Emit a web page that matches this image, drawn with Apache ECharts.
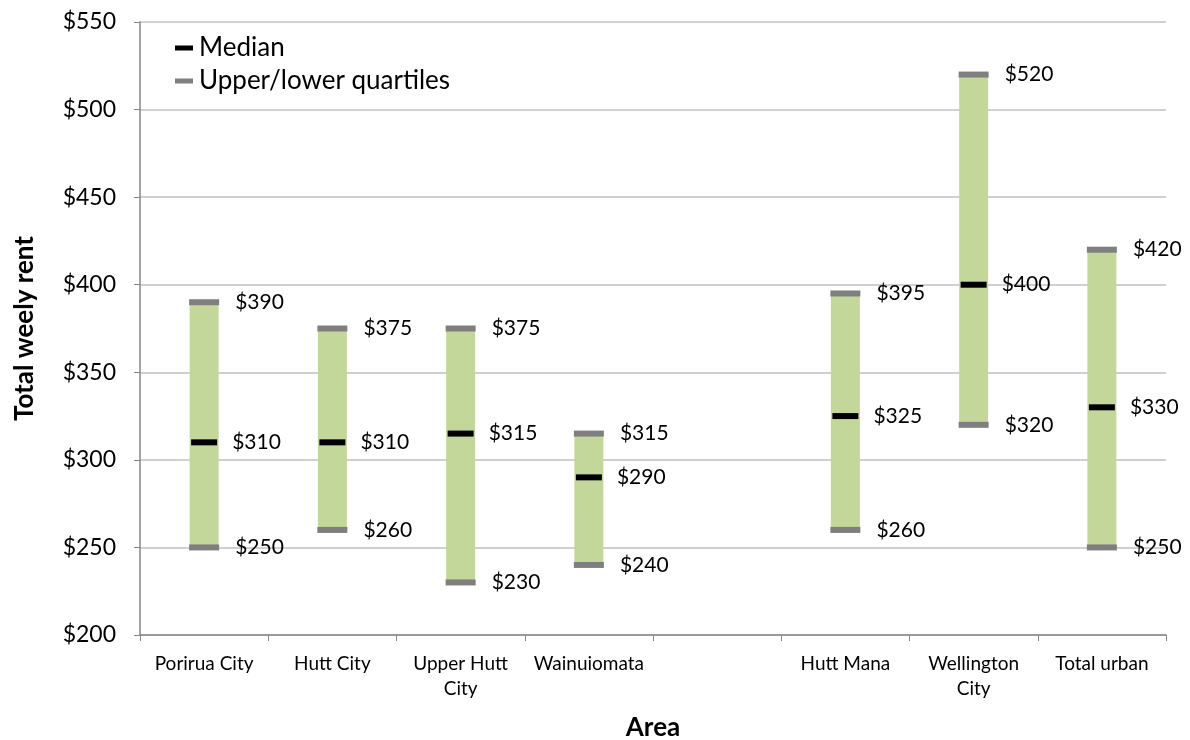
<!DOCTYPE html>
<html>
<head>
<meta charset="utf-8">
<script src="https://cdn.jsdelivr.net/npm/echarts@6/dist/echarts.min.js"></script>
<style>
  html, body { margin: 0; padding: 0; background: #fff; }
  #chart { width: 1190px; height: 740px; }
</style>
</head>
<body>
<div id="chart"></div>
<script>
// Weekly rent by area: interquartile range with median
const areas = ['Porirua City', 'Hutt City', 'Upper Hutt\nCity', 'Wainuiomata', '', 'Hutt Mana', 'Wellington\nCity', 'Total urban'];
const lowerQuartile = [250, 260, 230, 240, null, 260, 320, 250];
const median        = [310, 310, 315, 290, null, 325, 400, 330];
const upperQuartile = [390, 375, 375, 315, null, 395, 520, 420];
const yTicks = { min: 200, max: 550, interval: 50 };

const FONT = 'Lato, "Open Sans", sans-serif';
const GREEN = '#c4d79b';
const GREY = '#7f7f7f';

const toPoints = arr => arr.map((v, i) => (v == null ? null : [i, v])).filter(Boolean);

const valueLabel = {
  show: true,
  position: 'right',
  distance: 16,
  fontFamily: FONT,
  fontSize: 21,
  color: '#000',
  formatter: p => '$' + p.value[1]
};

const chart = echarts.init(document.getElementById('chart'), null, { renderer: 'canvas' });
chart.setOption({
  animation: false,
  backgroundColor: '#fff',
  textStyle: { fontFamily: FONT },
  grid: { left: 140, right: 24, top: 22, bottom: 105, containLabel: false, outerBoundsMode: 'none' },
  legend: {
    orient: 'vertical',
    left: 170,
    top: 30,
    itemWidth: 18,
    itemHeight: 5,
    itemGap: 7,
    icon: 'rect',
    textStyle: { fontFamily: FONT, fontSize: 26, color: '#000', padding: [0, 0, 0, 1] },
    data: ['Median', 'Upper/lower quartiles']
  },
  xAxis: {
    type: 'category',
    data: areas,
    name: 'Area',
    nameLocation: 'middle',
    nameGap: 80,
    nameTextStyle: { fontFamily: FONT, fontSize: 26, fontWeight: 'bold', color: '#000' },
    axisLine: { lineStyle: { color: '#868686', width: 1.5 } },
    axisTick: { show: true, length: 6, lineStyle: { color: '#868686' } },
    axisLabel: { fontFamily: FONT, fontSize: 19, color: '#000', margin: 16, lineHeight: 25, interval: 0 },
    splitLine: { show: false }
  },
  yAxis: {
    type: 'value',
    min: yTicks.min,
    max: yTicks.max,
    interval: yTicks.interval,
    name: 'Total weely rent',
    nameLocation: 'middle',
    nameGap: 102,
    nameTextStyle: { fontFamily: FONT, fontSize: 26, fontWeight: 'bold', color: '#000' },
    axisLine: { show: true, lineStyle: { color: '#868686', width: 1.5 } },
    axisTick: { show: true, length: 6, lineStyle: { color: '#868686' } },
    axisLabel: { fontFamily: FONT, fontSize: 23, color: '#000', margin: 24, formatter: v => '$' + v },
    splitLine: { lineStyle: { color: '#c0c0c0', width: 1.5 } }
  },
  series: [
    {
      // invisible base so the green range starts at the lower quartile
      type: 'bar',
      stack: 'range',
      barWidth: 29,
      silent: true,
      itemStyle: { color: 'transparent' },
      data: lowerQuartile.map(v => (v == null ? '-' : v))
    },
    {
      type: 'bar',
      stack: 'range',
      barWidth: 29,
      silent: true,
      itemStyle: { color: GREEN },
      data: upperQuartile.map((v, i) => (v == null ? '-' : v - lowerQuartile[i]))
    },
    {
      name: 'Upper/lower quartiles',
      type: 'scatter',
      symbol: 'rect',
      symbolSize: [30, 6],
      itemStyle: { color: GREY, opacity: 1 },
      z: 5,
      label: valueLabel,
      data: toPoints(upperQuartile)
    },
    {
      name: 'Upper/lower quartiles',
      type: 'scatter',
      symbol: 'rect',
      symbolSize: [30, 6],
      itemStyle: { color: GREY, opacity: 1 },
      z: 5,
      label: valueLabel,
      data: toPoints(lowerQuartile)
    },
    {
      name: 'Median',
      type: 'scatter',
      symbol: 'rect',
      symbolSize: [26, 6],
      itemStyle: { color: '#000', opacity: 1 },
      z: 6,
      label: Object.assign({}, valueLabel, { distance: 15 }),
      data: toPoints(median)
    }
  ]
});
</script>
</body>
</html>
